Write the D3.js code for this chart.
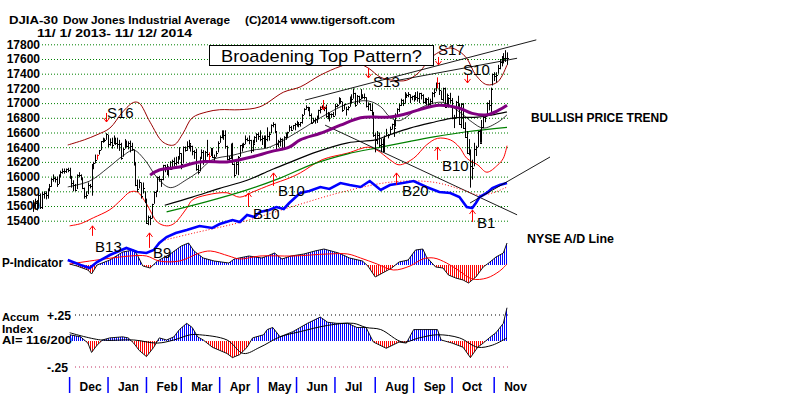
<!DOCTYPE html>
<html>
<head>
<meta charset="utf-8">
<script src="https://cdn.jsdelivr.net/npm/d3@7/dist/d3.min.js"></script>
<style>
  body { margin: 0; background: #fff; }
  text { font-family: Arial, "Liberation Sans", sans-serif; }
</style>
</head>
<body>
<div id="main"></div>
<script>
//data: trading days 11/1/2013 - 11/12/2014 (index 0..259)
const months = ['Dec', 'Jan', 'Feb', 'Mar', 'Apr', 'May', 'Jun', 'Jul', 'Aug', 'Sep', 'Oct', 'Nov'];
const monthStart = [20, 41, 62, 81, 102, 123, 144, 165, 187, 208, 229, 252];
const priceTicks = [15400, 15600, 15800, 16000, 16200, 16400, 16600, 16800, 17000, 17200, 17400, 17600, 17800];

const lows = [
  15520,15560,15540,15600,15560,15560,15700,15690,15700,15800,15860,15930,15920,15860,15900,15990,16040,16040,16050,16060,
  15970,15850,15800,15800,15830,15990,15950,15830,15700,15700,15760,15840,15740,16100,16180,16230,16300,16360,16460,16470,16500,
  16400,16420,16380,16440,16430,16380,16350,16230,16270,16380,16400,16370,16330,16350,16150,15870,15790,15840,15700,15770,15640,
  15360,15340,15340,15430,15630,15720,15800,15930,15860,15950,16060,16030,16000,16100,16100,16140,16150,16170,16230,
  16100,16180,16340,16350,16380,16340,16290,16240,16080,16030,16070,16250,16160,16190,16270,16210,16280,16260,16210,16270,16330,
  16460,16520,16500,16380,16220,16190,16240,16160,15990,16030,16020,16270,16340,16400,16440,16480,16440,16320,16340,16450,16470,
  16500,16480,16430,16390,16400,16480,16490,16590,16670,16590,16370,16400,16410,16360,16380,16500,16540,16610,16620,16640,16630,
  16680,16670,16680,16720,16840,16910,16890,16820,16720,16730,16720,16730,16780,16860,16920,16890,16800,16780,16750,16800,16810,
  16830,16940,16980,16990,16880,16910,16830,16900,16950,17000,17060,16950,16980,17000,17050,17060,17050,16940,16900,16900,16830,16540,
  16330,16440,16400,16330,16330,16330,16550,16520,16580,16640,16540,16680,16840,16880,16960,16960,17000,17070,17080,17000,17040,
  17020,17040,17020,17000,17050,17000,16990,16970,16960,16950,16990,17080,17160,17200,17110,17050,17020,16940,16950,16940,17000,
  16780,16660,16800,16950,16710,16660,16650,16540,16320,16290,15850,15960,16140,16280,16400,16460,16460,16660,16740,16820,16900,16880,17240,
  17300,17280,17400,17460,17500,17540,17560,17520
];
const highs = [
  15680,15700,15680,15780,15770,15790,15800,15800,15840,15900,15980,16030,16000,16000,16030,16080,16110,16110,16110,16120,
  16120,16010,15950,15900,16030,16060,16030,15990,15850,15800,15920,15900,16170,16200,16300,16300,16360,16480,16530,16520,16590,
  16570,16520,16530,16560,16530,16530,16500,16460,16390,16510,16490,16480,16490,16460,16370,16190,15960,15960,15920,15920,15800,
  15700,15470,15470,15630,15800,15810,16000,16010,15970,16160,16160,16170,16140,16210,16230,16260,16270,16280,16400,
  16320,16410,16410,16480,16500,16440,16420,16360,16380,16160,16270,16370,16360,16350,16500,16330,16390,16390,16300,16350,16480,
  16560,16630,16630,16630,16420,16280,16450,16460,16180,16210,16280,16430,16450,16460,16560,16530,16560,16500,16500,16550,16590,
  16600,16630,16560,16560,16560,16670,16610,16710,16740,16720,16620,16500,16530,16520,16550,16600,16610,16700,16690,16700,16730,
  16760,16740,16740,16850,16930,16970,16950,16940,16860,16800,16800,16830,16910,16950,16970,16950,16980,16880,16860,16860,16880,
  16990,16990,17080,17070,17020,16990,16950,16960,17090,17120,17200,17140,17110,17100,17190,17120,17130,17080,17010,17000,16990,16880,
  16590,16620,16600,16520,16520,16560,16650,16580,16680,16720,16770,16860,16930,16990,17060,17050,17150,17130,17150,17120,17100,
  17110,17150,17160,17140,17140,17120,17070,17070,17080,17060,17150,17200,17280,17350,17280,17170,17210,17210,17130,17080,17140,
  17070,16840,17030,17100,16990,17000,17000,16740,16620,16510,16370,16230,16460,16420,16620,16640,16770,16820,16830,17010,17040,17210,17400,
  17420,17420,17520,17600,17640,17680,17720,17690
];
const closes = [
  15615,15639,15618,15747,15593,15761,15783,15751,15822,15876,15961,15976,15967,15901,16009,16065,16073,16072,16097,16086,
  16008,15915,15889,15821,16020,16025,15973,15844,15740,15755,15884,15875,16167,16179,16221,16294,16357,16479,16478,16504,16577,
  16441,16470,16425,16531,16462,16444,16437,16257,16374,16482,16418,16459,16414,16374,16198,15879,15838,15929,15739,15849,15699,
  15373,15445,15441,15629,15794,15801,15994,15964,15963,16154,16130,16040,16133,16104,16208,16179,16198,16272,16322,
  16168,16396,16360,16422,16453,16418,16351,16340,16108,16065,16247,16336,16222,16331,16302,16276,16367,16268,16264,16323,16458,
  16532,16573,16572,16412,16246,16256,16437,16170,16027,16174,16263,16425,16409,16449,16514,16501,16502,16361,16448,16535,16581,
  16559,16513,16531,16402,16518,16551,16583,16696,16715,16614,16447,16491,16512,16374,16533,16543,16606,16676,16633,16698,16717,
  16743,16722,16737,16836,16924,16943,16945,16843,16734,16776,16781,16808,16906,16921,16947,16937,16818,16867,16846,16851,16827,
  16956,16976,17068,17024,16906,16985,16915,16944,17055,17060,17138,16977,17100,17052,17113,17086,17083,16960,16982,16912,16880,16563,
  16493,16569,16430,16443,16368,16554,16570,16561,16652,16713,16663,16839,16920,16980,17040,17002,17077,17107,17123,17080,17098,
  17068,17079,17069,17138,17111,17014,17068,17050,16988,17031,17131,17157,17266,17280,17173,17056,17211,16946,17113,17071,17043,
  16804,16801,17009,16991,16719,16994,16659,16544,16321,16316,16142,16117,16380,16399,16615,16462,16677,16805,16818,17005,16975,17196,17391,
  17366,17384,17484,17554,17573,17613,17615,17612
];
const redBars = [35, 96, 221];

// overlays: [day index, price]
const upperBand = [[19,16430],[28,16500],[35,16570],[42,16660],[49,16880],[55,17010],[58,17000],[64,16740],[71,16470],[77,16430],[82,16590],[87,16800],[95,16880],[102,16910],[113,16910],[124,16950],[137,17150],[146,17220],[157,17380],[168,17500],[176,17550],[183,17480],[190,17350],[197,17310],[204,17310],[211,17420],[218,17630],[228,17750],[233,17700],[237,17610],[242,17380],[248,17250],[254,17290],[259,17520]];
const lowerBand = [[20,15330],[26,15360],[33,15440],[42,15550],[48,15680],[53,15790],[57,15790],[62,15630],[68,15380],[73,15330],[77,15360],[84,15570],[87,15680],[95,15750],[106,15780],[113,15720],[120,15790],[130,15890],[140,15980],[146,16050],[158,16230],[172,16320],[183,16400],[188,16360],[195,16230],[200,16160],[208,16250],[215,16430],[221,16520],[228,16500],[233,16400],[237,16250],[243,16160],[248,16060],[254,16160],[257,16250],[259,16420]];
const ma21 = [[19,15860],[31,15940],[41,16120],[49,16280],[55,16360],[61,16230],[68,15980],[75,15850],[84,15960],[90,16060],[98,16230],[109,16290],[120,16360],[128,16390],[135,16470],[146,16630],[157,16800],[172,16990],[183,17030],[190,16950],[195,16810],[200,16760],[208,16880],[215,16970],[224,17010],[233,16880],[240,16740],[246,16660],[254,16740],[259,16840]];
const ma65 = [[64,16020],[69,16090],[80,16130],[91,16200],[106,16200],[113,16230],[120,16270],[130,16340],[140,16400],[146,16500],[157,16590],[168,16700],[179,16800],[186,16810],[195,16810],[206,16870],[211,16910],[222,16970],[233,16930],[240,16860],[248,16840],[255,16910],[259,16970]];
const maLong = [[72,15610],[87,15720],[102,15840],[117,15950],[130,16090],[140,16190],[153,16320],[172,16460],[187,16500],[195,16570],[206,16660],[219,16740],[230,16800],[243,16810],[251,16840],[259,16880]];
const maGreen = [[73,15520],[95,15660],[117,15820],[135,15980],[153,16170],[172,16310],[190,16400],[206,16480],[219,16540],[237,16610],[259,16670]];
// straight trend lines: [[i1, v1], [i2, v2]]
const trendLines = [
  [[148.6,17040],[275,17860]],
  [[195,17290],[264.5,17610]],
  [[159.6,16700],[264.5,15480]]
];

// NYSE A/D line (relative units)
const adLine = [[19,10],[26,5],[31,2],[35,8],[42,15],[51,22],[57,18],[62,17],[66,20],[69,27],[73,33],[78,37],[84,40],[91,44],[98,42],[102,46],[109,50],[113,48],[117,55],[121,53],[124,58],[129,60],[133,63],[137,61],[140,67],[143,72],[146,77],[151,79],[157,83],[162,81],[168,87],[173,85],[179,83],[184,89],[190,80],[195,85],[202,87],[208,89],[215,83],[222,78],[228,77],[233,73],[237,63],[240,62],[242,67],[244,73],[248,77],[251,82],[255,85],[259,87]];
const adMA = [[72,30],[88,37],[114,48],[141,63],[169,78],[196,88],[218,88],[235,80],[243,75],[251,77],[259,83]];
const adTrend = [[238.8,67],[282.5,113]];

// P-Indicator
const pInd = [[20,10],[24,-10],[30,-50],[32,-90],[35,0],[42,50],[49,130],[55,150],[57,100],[60,-10],[64,-30],[68,40],[75,110],[81,190],[85,220],[88,140],[93,70],[99,40],[107,20],[110,60],[118,90],[125,70],[128,90],[132,120],[136,60],[141,90],[148,110],[154,140],[159,160],[167,120],[173,70],[180,40],[183,-10],[187,-120],[191,-80],[196,-30],[200,30],[205,50],[209,150],[213,160],[215,80],[220,-20],[224,-30],[227,-100],[231,-130],[235,-150],[238,-180],[242,-120],[246,-20],[249,20],[253,80],[257,120],[259,220]];
const pMA = [[20,10],[53,90],[62,90],[69,40],[80,40],[91,120],[97,140],[107,90],[113,60],[124,90],[142,90],[161,110],[172,110],[179,70],[188,10],[197,-50],[206,-10],[213,60],[219,70],[226,20],[233,-60],[240,-140],[248,-130],[255,-60],[259,10]];

// Accumulation index
const accum = [[20,.06],[26,.04],[30,-.02],[32,-.11],[35,-.04],[38,.01],[42,.03],[49,.04],[52,.03],[55,-.02],[58,-.09],[62,-.15],[66,-.06],[69,.03],[73,.01],[77,.04],[80,.11],[84,.17],[87,.13],[90,.04],[93,.01],[98,-.06],[106,-.12],[109,-.16],[113,-.13],[117,-.06],[120,.03],[126,.06],[128,.11],[131,.13],[135,.04],[142,.09],[150,.17],[157,.23],[161,.18],[166,.17],[172,.17],[177,.13],[182,.13],[186,-.01],[193,-.07],[200,-.01],[204,-.02],[208,.11],[213,.11],[221,.11],[223,.01],[229,-.02],[235,-.06],[239,-.16],[243,-.06],[246,-.02],[250,.04],[253,.08],[257,.17],[259,.32]];
const accumMA = [[20,.08],[37,.01],[55,.01],[68,-.02],[77,.01],[86,.06],[91,.06],[106,.01],[115,-.12],[124,-.06],[135,.04],[146,.09],[161,.15],[175,.17],[182,.13],[190,.11],[202,-.01],[211,.03],[221,.06],[233,.03],[243,-.06],[251,-.04],[259,.03]];

// signals: arrow from price 'from' to tip 'to', label at (li, lv)
const signals = [
  {name: 'S16', i: 39.9, from: 16866, to: 16743, li: 40.4, lv: 16798},
  {name: '', i: 158.5, from: 17042, to: 16906, li: 0, lv: 0},
  {name: 'S13', i: 183, from: 17478, to: 17342, li: 185.8, lv: 17219},
  {name: 'S17', i: 221.3, from: 17628, to: 17519, li: 221.3, lv: 17655},
  {name: 'S10', i: 237.2, from: 17383, to: 17274, li: 235, lv: 17383},
  {name: 'B13', i: 32.2, from: 15194, to: 15330, li: 33.9, lv: 14976},
  {name: 'B9', i: 63.4, from: 15030, to: 15234, li: 65.6, lv: 14894},
  {name: 'B10', i: 117.5, from: 15587, to: 15778, li: 120.2, lv: 15424},
  {name: 'B10', i: 131.1, from: 15873, to: 16050, li: 133.9, lv: 15737},
  {name: 'B20', i: 198.4, from: 15887, to: 16050, li: 201.6, lv: 15737},
  {name: 'B10', i: 220.8, from: 16227, to: 16403, li: 223.5, lv: 16077},
  {name: 'B1', i: 239.9, from: 15383, to: 15546, li: 242.6, lv: 15302}
];

//constants
const W = 800, H = 395;
const n = Math.min(lows.length, highs.length, closes.length);

//scales:
const x = d3.scaleLinear().domain([0, 259]).range([33, 507]);
const y = d3.scaleLinear().domain([15400, 17800]).range([220.7, 44.3]);
const yAD = d3.scaleLinear().domain([0, 100]).range([270, 170]);
const yP = d3.scaleLinear().domain([-250, 250]).range([290, 240]);
const yAI = d3.scaleLinear().domain([-0.25, 0.25]).range([367, 315]);

const svg = d3.select('#main')
  .append('svg')
  .attr('width', W)
  .attr('height', H)
  .style('display', 'block');

svg.append('rect').attr('width', W).attr('height', H).attr('fill', '#fff');

const defs = svg.append('defs');
[['stripeBlue', '#0000ff'], ['stripeRed', '#ff0000']].forEach(([id, c]) => {
  defs.append('pattern')
    .attr('id', id)
    .attr('patternUnits', 'userSpaceOnUse')
    .attr('width', 2)
    .attr('height', 8)
    .append('rect')
    .attr('width', 1)
    .attr('height', 8)
    .attr('fill', c);
});

//titles
const bold = (t, px, py, len, size) => {
  const el = svg.append('text')
    .attr('x', px).attr('y', py)
    .style('font-size', (size || 12) + 'px')
    .style('font-weight', 'bold')
    .text(t);
  if (len) el.attr('textLength', len).attr('lengthAdjust', 'spacingAndGlyphs');
  return el;
};
bold('DJIA-30', 9, 24, 49, 11.5);
bold('Dow Jones Industrial Average', 63, 24, 167, 11.5);
bold('(C)2014 www.tigersoft.com', 245, 24, 150, 11.5);
bold('11/ 1/ 2013- 11/ 12/ 2014', 37, 37, 155, 11.5);

//price axis + dotted green grid
const yAxis = d3.axisLeft(y)
  .tickValues(priceTicks)
  .tickFormat(d3.format('d'))
  .tickSize(-468)
  .tickPadding(2);

const gy = svg.append('g')
  .attr('transform', 'translate(42, 0)')
  .call(yAxis);
gy.select('.domain').remove();
gy.selectAll('line')
  .attr('stroke', '#008000')
  .attr('stroke-dasharray', '1,2');
gy.selectAll('text')
  .attr('fill', '#000')
  .style('font-size', '12px')
  .style('font-weight', 'bold')
  .style('font-family', 'Arial, "Liberation Sans", sans-serif');

//overlay lines
const priceLine = d3.line()
  .x(d => x(d[0]))
  .y(d => y(d[1]))
  .curve(d3.curveCatmullRom);

const drawLine = (data, color, width, gen) => svg.append('path')
  .datum(data)
  .attr('d', gen || priceLine)
  .attr('fill', 'none')
  .attr('stroke', color)
  .attr('stroke-width', width);

drawLine(upperBand, '#990000', 1);
drawLine(lowerBand, '#ff0000', 1);
drawLine(maGreen, '#008000', 1.2);
drawLine(maLong, '#000', 1.2);
drawLine(ma21, '#000', 0.8);

trendLines.forEach(t => drawLine(t, '#000', 0.9, d3.line().x(d => x(d[0])).y(d => y(d[1]))));

//price bars with close ticks
const bars = svg.append('g')
  .selectAll('g')
  .data(d3.range(n))
  .enter()
  .append('g')
  .attr('stroke', i => redBars.includes(i) ? '#ff0000' : '#000');

bars.append('line')
  .attr('x1', i => Math.round(x(i)) + 0.5)
  .attr('x2', i => Math.round(x(i)) + 0.5)
  .attr('y1', i => y(highs[i]))
  .attr('y2', i => y(lows[i]));

bars.append('line')
  .attr('x1', i => Math.round(x(i)))
  .attr('x2', i => Math.round(x(i)) + 2)
  .attr('y1', i => Math.round(y(closes[i])) + 0.5)
  .attr('y2', i => Math.round(y(closes[i])) + 0.5);

drawLine(ma65, '#800080', 3);

//P-Indicator and Accum labels (under the lines)
bold('P-Indicator', 2, 267, 61);
bold('Accum', 2, 321, 37, 10.5);
bold('Index', 2, 332.5, 31, 10.5);
bold('AI= 116/200', 2, 344, 70, 10.5);
bold('+.25', 47, 320, 24);
bold('-.25', 47, 372, 21);

//histograms
function histogram (pts, sc, id) {
  const zero = sc(0);
  defs.append('clipPath').attr('id', id + 'pos')
    .append('rect').attr('x', 0).attr('y', 0).attr('width', W).attr('height', zero);
  defs.append('clipPath').attr('id', id + 'neg')
    .append('rect').attr('x', 0).attr('y', zero).attr('width', W).attr('height', H - zero);
  const area = d3.area()
    .x(d => x(d[0]))
    .y0(zero)
    .y1(d => sc(d[1]));
  svg.append('path').datum(pts).attr('d', area)
    .attr('fill', 'url(#stripeBlue)').attr('clip-path', `url(#${id}pos)`);
  svg.append('path').datum(pts).attr('d', area)
    .attr('fill', 'url(#stripeRed)').attr('clip-path', `url(#${id}neg)`);
  drawLine(pts, '#000', 0.9, d3.line().x(d => x(d[0])).y(d => sc(d[1])));
}

// AI reference lines
svg.append('line')
  .attr('x1', 75).attr('x2', 508)
  .attr('y1', yAI(0.25)).attr('y2', yAI(0.25))
  .attr('stroke', '#000').attr('stroke-dasharray', '1,3');
svg.append('line')
  .attr('x1', 75).attr('x2', 508)
  .attr('y1', yAI(-0.25)).attr('y2', yAI(-0.25))
  .attr('stroke', '#c03060').attr('stroke-dasharray', '1,3');

histogram(pInd, yP, 'p');
drawLine(pMA, '#ff0000', 1, d3.line().x(d => x(d[0])).y(d => yP(d[1])).curve(d3.curveCatmullRom));

histogram(accum, yAI, 'ai');
drawLine(accumMA, '#000', 1, d3.line().x(d => x(d[0])).y(d => yAI(d[1])).curve(d3.curveCatmullRom));

//A/D line
drawLine(adMA, '#ff0000', 1, d3.line().x(d => x(d[0])).y(d => yAD(d[1])).curve(d3.curveCatmullRom))
  .attr('stroke-dasharray', '1,2');
drawLine(adLine, '#0000ff', 2.6, d3.line().x(d => x(d[0])).y(d => yAD(d[1])));
drawLine(adTrend, '#000', 0.9, d3.line().x(d => x(d[0])).y(d => yAD(d[1])));

//signals
const sg = svg.append('g');
signals.forEach(s => {
  const sx = Math.round(x(s.i)) + 0.5;
  const y1 = y(s.from), y2 = y(s.to);
  const dir = y2 > y1 ? 1 : -1;
  sg.append('line')
    .attr('x1', sx).attr('x2', sx)
    .attr('y1', y1).attr('y2', y2)
    .attr('stroke', '#ff0000');
  sg.append('path')
    .attr('d', `M${sx - 3},${y2 - dir * 4}L${sx},${y2}L${sx + 3},${y2 - dir * 4}`)
    .attr('fill', 'none')
    .attr('stroke', '#ff0000');
  if (s.name) {
    sg.append('text')
      .attr('x', x(s.li))
      .attr('y', y(s.lv))
      .style('font-size', '15px')
      .text(s.name);
  }
});

//annotation box
svg.append('rect')
  .attr('x', 209.5).attr('y', 45.5)
  .attr('width', 224).attr('height', 20)
  .attr('fill', '#fff')
  .attr('stroke', '#000');
svg.append('text')
  .attr('x', 221).attr('y', 62)
  .style('font-size', '17px')
  .attr('textLength', 201)
  .attr('lengthAdjust', 'spacingAndGlyphs')
  .text('Broadening Top Pattern?');

bold('BULLISH PRICE TREND', 531, 122, 137);
bold('NYSE A/D Line', 527, 243, 87);

//month axis
const xAxis = d3.axisBottom(x)
  .tickValues(monthStart)
  .tickFormat((d, i) => months[i])
  .tickSize(16)
  .tickPadding(0);

const gx = svg.append('g')
  .attr('transform', 'translate(-0.5, 377)')
  .call(xAxis);
gx.select('.domain').remove();
gx.selectAll('line').attr('stroke', '#0000ff').attr('stroke-width', 1.5);
gx.selectAll('text')
  .attr('text-anchor', 'start')
  .attr('x', 10)
  .attr('y', 14)
  .attr('dy', 0)
  .attr('fill', '#000')
  .style('font-size', '12px')
  .style('font-weight', 'bold')
  .style('font-family', 'Arial, "Liberation Sans", sans-serif');
</script>
</body>
</html>
